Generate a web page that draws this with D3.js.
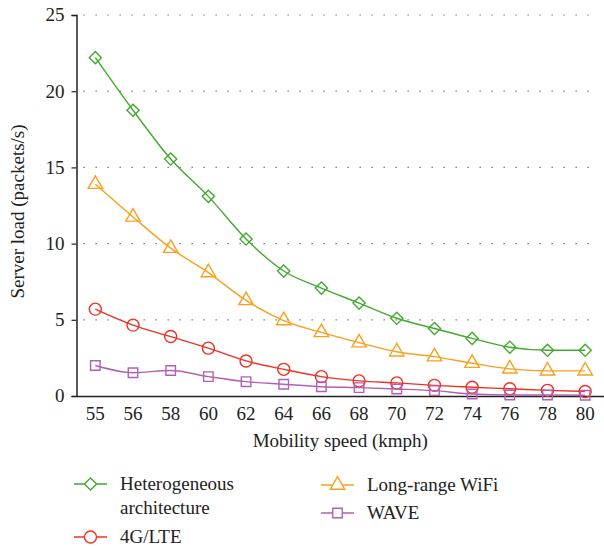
<!DOCTYPE html>
<html>
<head>
<meta charset="utf-8">
<script src="https://cdn.jsdelivr.net/npm/d3@7"></script>
<style>
  html, body { margin: 0; padding: 0; background: #fff; overflow: hidden; }
  svg { display: block; }
  svg text { font-family: 'Liberation Serif', 'DejaVu Serif', serif; }
</style>
</head>
<body>
<svg id="chart"></svg>
<script>
// data
const speeds = [55, 56, 58, 60, 62, 64, 66, 68, 70, 72, 74, 76, 78, 80];
const heteroLoad = [22.2, 18.75, 15.55, 13.1, 10.3, 8.2, 7.08, 6.1, 5.1, 4.43, 3.78, 3.2, 3.0, 3.0];
const wifiLoad = [13.9, 11.75, 9.7, 8.1, 6.27, 4.95, 4.17, 3.5, 2.9, 2.58, 2.15, 1.78, 1.65, 1.65];
const lteLoad = [5.7, 4.65, 3.9, 3.14, 2.3, 1.75, 1.27, 0.99, 0.86, 0.7, 0.57, 0.48, 0.37, 0.3];
const waveLoad = [2.0, 1.53, 1.67, 1.27, 0.94, 0.77, 0.61, 0.55, 0.46, 0.35, 0.13, 0.07, 0.07, 0.05];
const yTicks = [0, 5, 10, 15, 20, 25];

const series = [
  { name: 'Heterogeneous architecture', values: heteroLoad, color: '#43a930', symbol: d3.symbolDiamond2 },
  { name: 'Long-range WiFi', values: wifiLoad, color: '#f7a11f', symbol: d3.symbolTriangle2 },
  { name: '4G/LTE', values: lteLoad, color: '#ec3323', symbol: 'circle' },
  { name: 'WAVE', values: waveLoad, color: '#b161b3', symbol: d3.symbolSquare2 }
];

const width = 604, height = 548;
const margin = { top: 15, right: 0, bottom: 152, left: 76.5 };
const innerWidth = width - margin.left - margin.right;
const innerHeight = height - margin.top - margin.bottom;

const svg = d3.select('#chart').attr('width', width).attr('height', height);

const xScale = d3.scaleBand()
  .domain(speeds)
  .range([margin.left, width - margin.right]);

const yScale = d3.scaleLinear()
  .domain([0, 25])
  .range([margin.top + innerHeight, margin.top]);

const xPos = d => xScale(d) + xScale.bandwidth() / 2;

// dotted grid
svg.append('g')
  .selectAll('line')
  .data(yTicks.filter(t => t > 0))
  .enter().append('line')
  .attr('x1', margin.left + 7).attr('x2', width - 6)
  .attr('y1', d => yScale(d)).attr('y2', d => yScale(d))
  .attr('stroke', '#666')
  .attr('stroke-width', 1.2)
  .attr('stroke-dasharray', '1.3 10.7');

// axes: lines from d3 axes, labels placed straight from the scales
const yAxisG = svg.append('g')
  .attr('transform', `translate(${margin.left}, 0)`)
  .call(d3.axisLeft(yScale).tickValues(yTicks).tickSize(5).tickFormat(''));
yAxisG.select('.domain').attr('stroke', '#222').attr('stroke-width', 1.5);
yAxisG.selectAll('.tick line').attr('stroke', '#222').attr('stroke-width', 1.2);

const xAxisG = svg.append('g')
  .attr('transform', `translate(0, ${margin.top + innerHeight})`)
  .call(d3.axisBottom(xScale).tickSize(0).tickFormat(''));
xAxisG.select('.domain').attr('stroke', '#222').attr('stroke-width', 1.5);

svg.append('g')
  .selectAll('text')
  .data(yTicks)
  .enter().append('text')
  .attr('x', margin.left - 12)
  .attr('y', d => yScale(d))
  .attr('dy', '0.34em')
  .attr('text-anchor', 'end')
  .attr('font-size', 19)
  .attr('fill', '#222')
  .text(d => d);

svg.append('g')
  .selectAll('text')
  .data(speeds)
  .enter().append('text')
  .attr('x', d => xPos(d))
  .attr('y', margin.top + innerHeight + 24)
  .attr('text-anchor', 'middle')
  .attr('font-size', 19)
  .attr('fill', '#222')
  .text(d => d);

// axis titles
svg.append('text')
  .attr('x', margin.left + innerWidth / 2)
  .attr('y', 447)
  .attr('text-anchor', 'middle')
  .attr('font-size', 19)
  .attr('fill', '#222')
  .text('Mobility speed (kmph)');

const yTitleX = 18, yTitleY = margin.top + innerHeight / 2 + 6;
svg.append('text')
  .attr('x', yTitleX)
  .attr('y', yTitleY)
  .attr('transform', `rotate(-90, ${yTitleX}, ${yTitleY})`)
  .attr('dy', '0.34em')
  .attr('text-anchor', 'middle')
  .attr('font-size', 19)
  .attr('fill', '#222')
  .text('Server load (packets/s)');

const line = d3.line()
  .x((d, i) => xPos(speeds[i]))
  .y(d => yScale(d))
  .curve(d3.curveMonotoneX);

function drawMarker(g, s) {
  if (s.symbol === 'circle') {
    g.append('circle').attr('r', 6);
  } else {
    const area = s.symbol === d3.symbolTriangle2 ? 150 : (s.symbol === d3.symbolDiamond2 ? 95 : 115);
    g.append('path').attr('d', d3.symbol(s.symbol, area)());
  }
  g.selectAll('*')
    .attr('fill', 'white')
    .attr('fill-opacity', 0)
    .attr('stroke', s.color)
    .attr('stroke-width', 1.4);
}

series.forEach(s => {
  svg.append('path')
    .datum(s.values)
    .attr('fill', 'none')
    .attr('stroke', s.color)
    .attr('stroke-width', 1.4)
    .attr('d', line);

  svg.append('g')
    .selectAll('g')
    .data(s.values)
    .enter().append('g')
    .attr('transform', (d, i) => `translate(${xPos(speeds[i])}, ${yScale(d)})`)
    .each(function () { drawMarker(d3.select(this), s); });
});

// legend
const legendItems = [
  { s: series[0], x: 74, y: 484, lines: ['Heterogeneous', 'architecture'] },
  { s: series[2], x: 74, y: 537, lines: ['4G/LTE'] },
  { s: series[1], x: 321, y: 485, lines: ['Long-range WiFi'] },
  { s: series[3], x: 321, y: 513, lines: ['WAVE'] }
];

legendItems.forEach(item => {
  const g = svg.append('g');
  g.append('line')
    .attr('x1', item.x).attr('x2', item.x + 33)
    .attr('y1', item.y).attr('y2', item.y)
    .attr('stroke', item.s.color)
    .attr('stroke-width', 1.4);
  const m = g.append('g').attr('transform', `translate(${item.x + 16.5}, ${item.y})`);
  drawMarker(m, item.s);
  m.selectAll('*').attr('fill-opacity', 1);
  g.selectAll('text')
    .data(item.lines)
    .enter().append('text')
    .attr('x', item.x + 46)
    .attr('y', (d, i) => item.y + 6 + i * 24)
    .attr('font-size', 19)
    .attr('fill', '#222')
    .text(d => d);
});
</script>
</body>
</html>
